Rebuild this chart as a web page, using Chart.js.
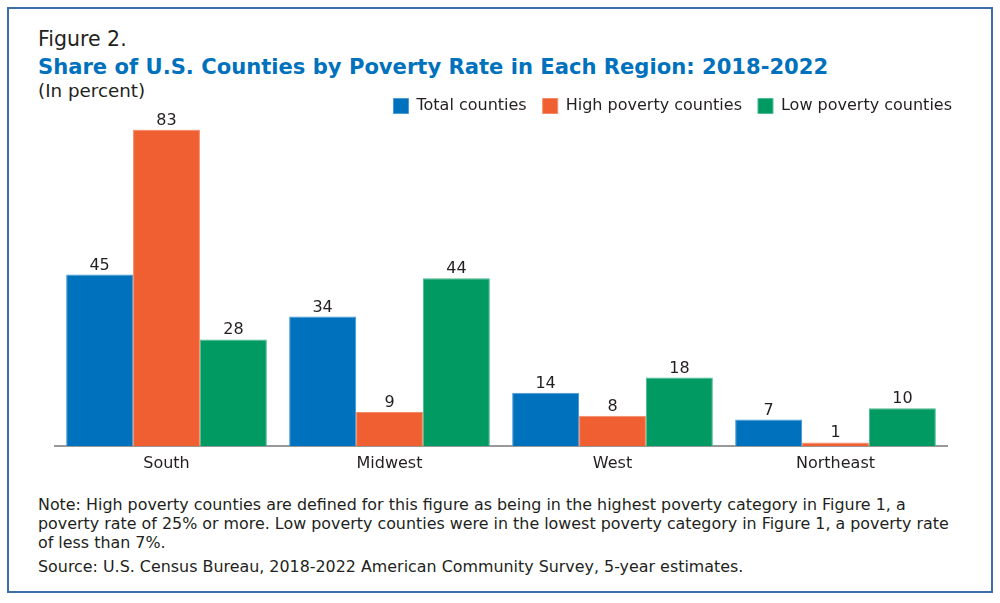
<!DOCTYPE html>
<html>
<head>
<meta charset="utf-8">
<script src="https://cdn.jsdelivr.net/npm/chart.js@4.4.1/dist/chart.umd.min.js"></script>
<style>
  body { margin: 0; background: #fff; font-family: "DejaVu Sans", sans-serif; color: #231f20; }
  #wrap { position: relative; width: 1000px; height: 603px; overflow: hidden; }
  #frame { position: absolute; left: 7px; top: 7px; width: 982px; height: 582px; border: 2px solid #3b6ea8; }
  .txt { position: absolute; left: 38px; white-space: nowrap; }
  #fig { top: 27.2px; font-size: 20.5px; }
  #title { top: 53.6px; font-size: 21.1px; font-weight: bold; color: #0071bc; }
  #unit { top: 79.8px; font-size: 18.3px; }
  #note { top: 495.3px; font-size: 15.9px; line-height: 19px; }
  #source { top: 557.3px; font-size: 15.9px; line-height: 19px; }
  #box { position: absolute; left: 0; top: 81.5px; width: 1000px; height: 401.5px; }
</style>
</head>
<body>
<div id="wrap">
  <div id="frame"></div>
  <div class="txt" id="fig">Figure 2.</div>
  <div class="txt" id="title">Share of U.S. Counties by Poverty Rate in Each Region: 2018-2022</div>
  <div class="txt" id="unit">(In percent)</div>
  <div id="box"><canvas id="mycanvas"></canvas></div>
  <div class="txt" id="note">Note: High poverty counties are defined for this figure as being in the highest poverty category in Figure 1, a<br>poverty rate of 25% or more. Low poverty counties were in the lowest poverty category in Figure 1, a poverty rate<br>of less than 7%.</div>
  <div class="txt" id="source">Source: U.S. Census Bureau, 2018-2022 American Community Survey, 5-year estimates.</div>
</div>
<script>
var regions = ["South", "Midwest", "West", "Northeast"];
var totalCounties = [45, 34, 14, 7];
var highPoverty = [83, 9, 8, 1];
var lowPoverty = [28, 44, 18, 10];

// write the numbers above each bar
var valueLabels = {
	id: "valueLabels",
	afterDatasetsDraw: function(chart) {
		var ctx = chart.ctx;
		ctx.save();
		ctx.font = "16px 'DejaVu Sans'";
		ctx.fillStyle = "#231f20";
		ctx.textAlign = "center";
		ctx.textBaseline = "alphabetic";
		chart.data.datasets.forEach(function(ds, i) {
			chart.getDatasetMeta(i).data.forEach(function(bar, j) {
				ctx.fillText(ds.data[j], bar.x, bar.y - 5);
			});
		});
		ctx.restore();
	}
};

// a little more room under the legend
var legendGap = {
	id: "legendGap",
	beforeInit: function(chart) {
		var fit = chart.legend.fit;
		chart.legend.fit = function() {
			fit.bind(chart.legend)();
			this.height += 5.5;
		};
	}
};

var chartdata = {
	labels: regions,
	datasets: [
		{ label: "Total counties", data: totalCounties, backgroundColor: "#0071bc", borderColor: "#4a9ad6", borderWidth: 1 },
		{ label: "High poverty counties", data: highPoverty, backgroundColor: "#f05f32", borderColor: "#f58a66", borderWidth: 1 },
		{ label: "Low poverty counties", data: lowPoverty, backgroundColor: "#009a62", borderColor: "#4dbb8f", borderWidth: 1 }
	]
};

var options = {
	responsive: true,
	maintainAspectRatio: false,
	animation: false,
	layout: { padding: { left: 55, right: 32, top: 0, bottom: 10 } },
	datasets: { bar: { categoryPercentage: 0.9, barPercentage: 1.0 } },
	plugins: {
		legend: {
			display: true,
			position: "top",
			align: "end",
			labels: {
				boxWidth: 15,
				boxHeight: 15,
				padding: 16,
				color: "#231f20",
				font: { family: "DejaVu Sans", size: 16 }
			}
		},
		tooltip: { enabled: false }
	},
	scales: {
		x: {
			grid: { display: false },
			border: { display: true, color: "#999", width: 2 },
			ticks: { color: "#231f20", font: { family: "DejaVu Sans", size: 16 }, padding: 0 }
		},
		y: {
			position: "right",
			min: 0,
			max: 83,
			ticks: { display: false },
			grid: { display: false },
			border: { display: false },
			afterFit: function(scale) { scale.width = 21; }
		}
	}
};

new Chart(document.getElementById("mycanvas"), {
	type: "bar",
	data: chartdata,
	options: options,
	plugins: [valueLabels, legendGap]
});
</script>
</body>
</html>
